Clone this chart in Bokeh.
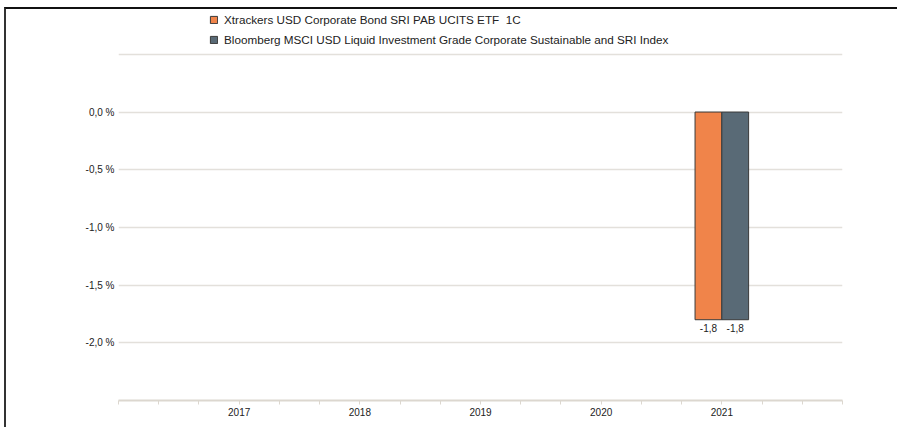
from bokeh.plotting import figure
from bokeh.models import (ColumnDataSource, FixedTicker, Legend, LegendItem, LabelSet,
                          Range1d)
from bokeh.core.properties import value
from bokeh.transform import dodge
from bokeh.embed import file_html
from bokeh.resources import INLINE

# ---- data ----
years = [2017, 2018, 2019, 2020, 2021]
year_labels = ["2017", "2018", "2019", "2020", "2021"]
etf_values = [None, None, None, None, -1.8]
index_values = [None, None, None, None, -1.8]
series_names = [
    "Xtrackers USD Corporate Bond SRI PAB UCITS ETF  1C",
    "Bloomberg MSCI USD Liquid Investment Grade Corporate Sustainable and SRI Index",
]
y_ticks = [0.5, 0.0, -0.5, -1.0, -1.5, -2.0]
y_tick_labels = ["", "0,0 %", "-0,5 %", "-1,0 %", "-1,5 %", "-2,0 %"]

colors = ["#F0844A", "#596A76"]
FONT = "Liberation Sans"


def fmt(v):
    return "" if v is None else f"{v:.1f}".replace(".", ",")


def rows(vals):
    xs, ys, ts = [], [], []
    for x, v in zip(years, vals):
        if v is not None:
            xs.append(x); ys.append(v); ts.append(fmt(v))
    return ColumnDataSource(dict(x=xs, y=ys, t=ts))


src_etf = rows(etf_values)
src_idx = rows(index_values)

p = figure(width=893, height=420, output_backend="svg", toolbar_location=None,
           x_range=Range1d(2016, 2022), y_range=Range1d(-2.5, 0.88),
           min_border_left=112, min_border_right=57, min_border_top=1,
           min_border_bottom=29)
p.styles = {"border-top": "2px solid #111", "border-left": "2px solid #333",
            "margin-top": "7px", "margin-left": "4px"}
p.outline_line_color = None
p.background_fill_color = "white"
p.border_fill_color = "white"

bw = 0.222
r1 = p.vbar(x=dodge("x", -bw / 2, range=p.x_range), top=0, bottom="y", width=bw,
            source=src_etf, fill_color=colors[0], line_color="#3a3a3a", line_width=1)
r2 = p.vbar(x=dodge("x", bw / 2, range=p.x_range), top=0, bottom="y", width=bw,
            source=src_idx, fill_color=colors[1], line_color="#3a3a3a", line_width=1)

for src, off in ((src_etf, -bw / 2), (src_idx, bw / 2)):
    p.add_layout(LabelSet(x=dodge("x", off, range=p.x_range), y="y", text="t", source=src,
                          text_align="center", text_baseline="top", y_offset=-4,
                          text_font=value(FONT), text_font_size=value("10px"),
                          text_color="#222"))

# axes
p.xaxis.ticker = FixedTicker(ticks=years,
                             minor_ticks=[2016 + i / 3 for i in range(19)])
p.xaxis.major_label_overrides = {y: l for y, l in zip(years, year_labels)}
p.xaxis.axis_line_color = "#dcd7cf"
p.xaxis.axis_line_width = 2
p.xaxis.major_tick_line_color = None
p.xaxis.minor_tick_line_color = "#dcd7cf"
p.xaxis.minor_tick_out = 4
p.xaxis.minor_tick_in = 0
p.xaxis.major_tick_out = 0
p.xaxis.major_label_standoff = 3
p.xaxis.major_label_text_font = FONT
p.xaxis.major_label_text_font_size = "10px"
p.xaxis.major_label_text_color = "#222"

p.yaxis.ticker = FixedTicker(ticks=y_ticks)
p.yaxis.major_label_overrides = {t: l for t, l in zip(y_ticks, y_tick_labels)}
p.yaxis.axis_line_color = None
p.yaxis.major_tick_line_color = None
p.yaxis.minor_tick_line_color = None
p.yaxis.major_tick_out = 0
p.yaxis.major_label_standoff = 4
p.yaxis.major_label_text_font = FONT
p.yaxis.major_label_text_font_size = "10px"
p.yaxis.major_label_text_color = "#222"

p.xgrid.grid_line_color = None
p.ygrid.grid_line_color = "#e3e0db"
p.ygrid.grid_line_width = 1.5

legend = Legend(items=[LegendItem(label=series_names[0], renderers=[r1]),
                       LegendItem(label=series_names[1], renderers=[r2])],
                location=(91, 354), orientation="vertical",
                padding=0, margin=0, spacing=6,
                glyph_width=9, glyph_height=9, label_standoff=6, label_height=14,
                label_text_font=FONT, label_text_font_size="11.7px",
                label_text_color="#222",
                border_line_color=None, background_fill_alpha=0)
p.add_layout(legend, "center")

open("out.html", "w").write(file_html(p, INLINE))
